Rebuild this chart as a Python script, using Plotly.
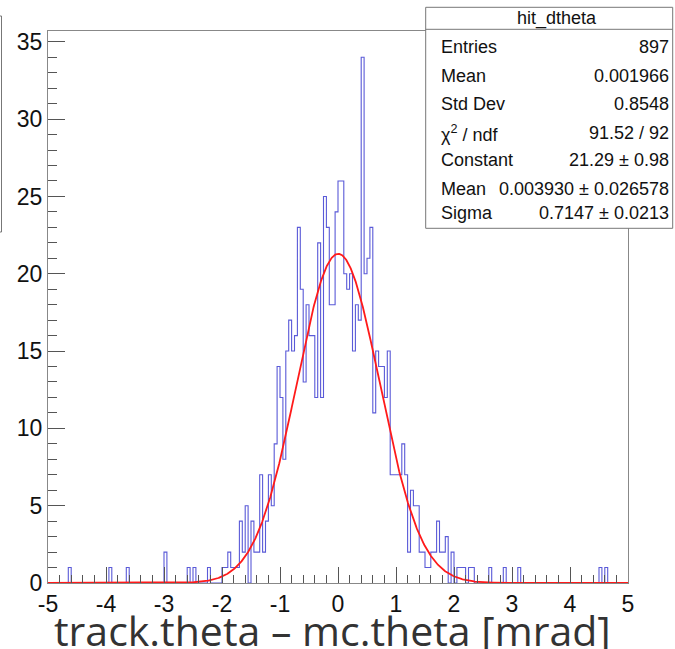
import numpy as np
import plotly.graph_objects as go

# ---------------- data ----------------
x_min, x_max, n_bins = -5.0, 5.0, 200   # histogram binning (0.05 wide bins)

# bin contents, 20 bins per row (row k starts at x = -5 + k)
counts = [
    0, 0, 0, 0, 0, 0, 0, 1, 0, 0, 0, 0, 0, 0, 0, 0, 0, 0, 0, 0,
    0, 1, 0, 0, 0, 0, 0, 1, 0, 0, 0, 0, 0, 0, 0, 0, 0, 0, 0, 0,
    2, 0, 0, 0, 0, 0, 0, 0, 1, 0, 1, 0, 0, 0, 0, 1, 0, 0, 0, 0,
    1, 1, 2, 1, 1, 1, 4, 2, 5, 0, 4, 2, 2, 7, 2, 4, 7, 5, 9, 14,
    12, 8, 15, 17, 15, 16, 23, 19, 13, 18, 16, 16, 12, 22, 12, 25, 23, 18, 18, 24,
    26, 26, 20, 19, 20, 15, 18, 17, 34, 20, 21, 23, 11, 15, 14, 14, 12, 15, 7, 7,
    7, 7, 9, 7, 2, 6, 5, 5, 2, 2, 1, 1, 2, 2, 4, 2, 2, 3, 0, 2,
    0, 1, 1, 1, 0, 1, 1, 0, 0, 0, 0, 0, 1, 0, 0, 0, 0, 1, 0, 0,
    0, 0, 1, 0, 0, 0, 0, 0, 0, 0, 0, 0, 0, 0, 0, 0, 0, 0, 0, 0,
    0, 0, 0, 0, 0, 0, 0, 0, 0, 0, 1, 0, 1, 0, 0, 0, 0, 0, 0, 0,
]

# Gaussian fit parameters (from the stats box)
fit_constant = 21.29
fit_mean = 0.003930
fit_sigma = 0.7147

x_tick_vals = [-5, -4, -3, -2, -1, 0, 1, 2, 3, 4, 5]
x_tick_text = ["-5", "-4", "-3", "-2", "-1", "0", "1", "2", "3", "4", "5"]
y_tick_vals = [0, 5, 10, 15, 20, 25, 30, 35]
y_tick_text = ["0", "5", "10", "15", "20", "25", "30", "35"]

stats_title = "hit_dtheta"
stats_labels = ["Entries", "Mean", "Std Dev", "\u03c7<sup>2</sup> / ndf", "Constant", "Mean", "Sigma"]
stats_values = ["897", "0.001966", "0.8548", "91.52 / 92", "21.29 \u00b1 0.98",
                "0.003930 \u00b1 0.026578", "0.7147 \u00b1 0.0213"]
stats_rows_y = [47.5, 76, 104, 133, 160, 189, 213.5]   # pixel rows

x_title = "track.theta \u2013 mc.theta [mrad]"

# ---------------- figure ----------------
W, H = 675, 649
L, R, T, B = 48, 628, 31, 583


def fx(px):
    return (px - L) / (R - L)


def fy(py):
    return (B - py) / (B - T)


edges = np.linspace(x_min, x_max, n_bins + 1)
c = np.array(counts, dtype=float)
xs = np.concatenate([[edges[0]], np.repeat(edges, 2)[1:-1], [edges[-1]]])
ys = np.concatenate([[0.0], np.repeat(c, 2), [0.0]])

xf = np.linspace(x_min, x_max, 1200)
yf = fit_constant * np.exp(-0.5 * ((xf - fit_mean) / fit_sigma) ** 2)

fig = go.Figure()
fig.add_trace(go.Scatter(x=xs, y=ys, mode="lines",
                         line=dict(color="#5a5ad8", width=1.1),
                         hoverinfo="skip", showlegend=False))
fig.add_trace(go.Scatter(x=xf, y=yf, mode="lines",
                         line=dict(color="#ff1a1a", width=1.8),
                         hoverinfo="skip", showlegend=False))

axis_font = dict(family="Liberation Sans, Arial, sans-serif", size=23, color="#111")

fig.update_layout(
    width=W, height=H,
    margin=dict(l=L, r=W - R, t=T, b=H - B, pad=0),
    paper_bgcolor="white", plot_bgcolor="white",
    showlegend=False,
    xaxis=dict(range=[x_min, x_max], tickvals=x_tick_vals, ticktext=x_tick_text,
               ticks="inside", ticklen=16, tickwidth=1, tickcolor="#555",
               minor=dict(dtick=0.2, tick0=0, ticks="inside", ticklen=8,
                          tickcolor="#555", tickwidth=1, showgrid=False),
               showline=True, linecolor="#888", linewidth=1, mirror=True,
               showgrid=False, zeroline=False, tickfont=axis_font,
               ticklabelstandoff=0),
    yaxis=dict(range=[0, 35.7], tickvals=y_tick_vals, ticktext=y_tick_text,
               ticks="inside", ticklen=17, tickwidth=1, tickcolor="#555",
               minor=dict(dtick=1, tick0=0, ticks="inside", ticklen=9,
                          tickcolor="#555", tickwidth=1, showgrid=False),
               showline=True, linecolor="#888", linewidth=1, mirror=True,
               showgrid=False, zeroline=False, tickfont=axis_font,
               ticklabelstandoff=0),
)

shapes = []
# edge of a neighbouring box at the far left
shapes.append(dict(type="rect", xref="paper", yref="paper",
                   x0=fx(-10), x1=fx(1.5), y0=fy(232), y1=fy(16),
                   line=dict(color="#777", width=1), fillcolor="rgba(0,0,0,0)"))
# stats box
shapes.append(dict(type="rect", xref="paper", yref="paper",
                   x0=fx(425.7), x1=fx(672.7), y0=fy(228.3), y1=fy(7.3),
                   line=dict(color="#777", width=1), fillcolor="white"))
shapes.append(dict(type="line", xref="paper", yref="paper",
                   x0=fx(425.7), x1=fx(672.7), y0=fy(29.3), y1=fy(29.3),
                   line=dict(color="#777", width=1)))
fig.update_layout(shapes=shapes)

stat_font = dict(family="Liberation Sans, Arial, sans-serif", size=18, color="#111")
ann = [dict(text=stats_title, xref="paper", yref="paper", x=fx(557), y=fy(18),
            xanchor="center", yanchor="middle", showarrow=False, font=stat_font)]
for lab, val, py in zip(stats_labels, stats_values, stats_rows_y):
    ann.append(dict(text=lab, xref="paper", yref="paper", x=fx(439), y=fy(py),
                    xanchor="left", yanchor="middle", showarrow=False, font=stat_font))
    ann.append(dict(text=val, xref="paper", yref="paper", x=fx(671), y=fy(py),
                    xanchor="right", yanchor="middle", showarrow=False, font=stat_font))
ann.append(dict(text=x_title, xref="paper", yref="paper", x=fx(332), y=fy(630),
                xanchor="center", yanchor="middle", showarrow=False,
                font=dict(family="Open Sans, sans-serif", size=41, color="#333")))
fig.update_layout(annotations=ann)

fig.write_html("out.html")
